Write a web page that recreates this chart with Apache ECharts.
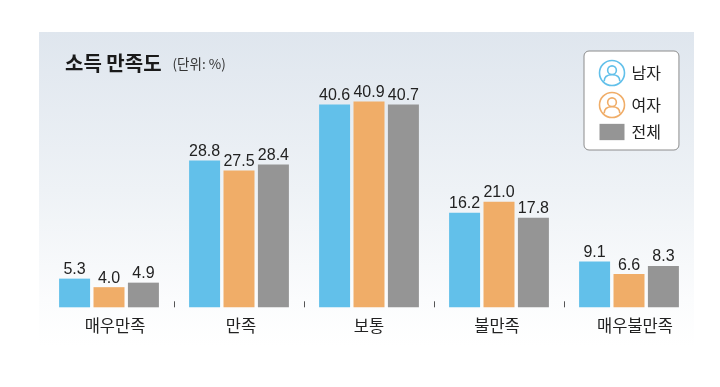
<!DOCTYPE html>
<html><head><meta charset="utf-8">
<style>html,body{margin:0;padding:0;background:#fff}#c{width:720px;height:387px}</style>
<script src="https://cdn.jsdelivr.net/npm/echarts@6/dist/echarts.min.js"></script>
</head><body><div id="c"></div>
<script>
const categories = ['매우만족','만족','보통','불만족','매우불만족'];
// Printed labels, as shown in the reference.
const maleLabels = [5.3,28.8,40.6,16.2,9.1];
const femaleLabels = [4.0,27.5,40.9,21.0,6.6];
const totalLabels = [4.9,28.4,40.7,17.8,8.3];
// Bar heights. They differ slightly from
// the printed labels; the 16.2 bar is visibly drawn at about 18.8 in the source.
const maleBars = [5.7,29.2,40.3,18.8,9.1];
const femaleBars = [4.0,27.2,40.9,21.0,6.6];
const totalBars = [4.9,28.4,40.3,17.8,8.2];
const seriesNames = ['남자','여자','전체'];
const tickPositions = [1,2,3,4];
const colors = ['#62c0ea','#f0ad68','#959595'];
const personIcon = 'path://M12 .8A11.2 11.2 0 1 1 11.99 .8ZM12 5.6A3.9 3.9 0 1 0 12.01 5.6ZM5 19.5C5 15 8 13.6 12 13.6C16 13.6 19 15 19 19.5';
const rectIcon = 'path://M0 0H23V15H0Z';
const FONT = '"Noto Sans CJK KR","Noto Sans",sans-serif';
const NUMFONT = '"Liberation Sans",Arial,sans-serif';
const chart = echarts.init(document.getElementById('c'));
const mk = (name, data, labels, i) => ({
  name, type:'bar', data, barWidth:31, barGap:'11%',
  itemStyle:{color:colors[i]},
  label:{show:true,position:'top',distance:1,fontFamily:NUMFONT,fontSize:16,color:'#222',
    formatter:p=>labels[p.dataIndex].toFixed(1)}
});
// The reference's category labels sit slightly off their band centres.
const labelPadding = [[0,0,0,12],[0,0,0,4],[0,0,0,0],[0,4,0,0],[0,0,0,12]];
chart.setOption({
  animation:false,
  title:{left:65,top:53,padding:0,
    text:'{a|소득 만족도} {b|(단위: %)}',
    textStyle:{rich:{
      a:{fontFamily:FONT,fontSize:20,fontWeight:'bold',color:'#1a1a1a'},
      b:{fontFamily:FONT,fontSize:13.5,fontWeight:'normal',color:'#333',padding:[2,0,0,6]}
    }}},
  legend:{
    orient:'vertical',left:584,top:51,
    padding:[7,18,8,13],itemGap:2,itemWidth:25,itemHeight:25,
    backgroundColor:'#fff',borderColor:'#8c8c8c',borderWidth:1,borderRadius:5,
    selectedMode:false,
    textStyle:{fontFamily:FONT,fontSize:16,lineHeight:20,color:'#222',padding:[0,0,0,2]},
    data:[
      {name:seriesNames[0],icon:personIcon,itemStyle:{color:'none',borderColor:colors[0],borderWidth:1.6}},
      {name:seriesNames[1],icon:personIcon,itemStyle:{color:'none',borderColor:colors[1],borderWidth:1.6}},
      {name:seriesNames[2],icon:rectIcon,itemStyle:{color:colors[2]}}
    ]
  },
  grid:{left:44,width:650,top:55.8,height:251.5},
  xAxis:[{type:'category',
    data:categories.map((value,i)=>({value,textStyle:{padding:labelPadding[i]}})),
    axisLine:{show:false},axisTick:{show:false},
    axisLabel:{fontFamily:FONT,fontSize:16.5,color:'#222',margin:10,interval:0}},
   {type:'value',position:'bottom',min:0,max:5,splitLine:{show:false},
    axisLine:{show:false},axisLabel:{show:false},
    axisTick:{show:true,inside:true,length:6,lineStyle:{color:'#555',width:1},customValues:tickPositions}}],
  yAxis:{type:'value',min:0,max:50,show:false},
  graphic:[{type:'rect',silent:true,z:-10,
    shape:{x:39,y:32,width:655,height:315},
    style:{fill:new echarts.graphic.LinearGradient(0,0,0,1,[
      {offset:0,color:'#dfe6ee'},{offset:.5,color:'#eef2f6'},{offset:.85,color:'#fbfcfd'},{offset:1,color:'#ffffff'}])}}],
  series:[mk(seriesNames[0],maleBars,maleLabels,0),mk(seriesNames[1],femaleBars,femaleLabels,1),mk(seriesNames[2],totalBars,totalLabels,2)]
});
</script></body></html>
